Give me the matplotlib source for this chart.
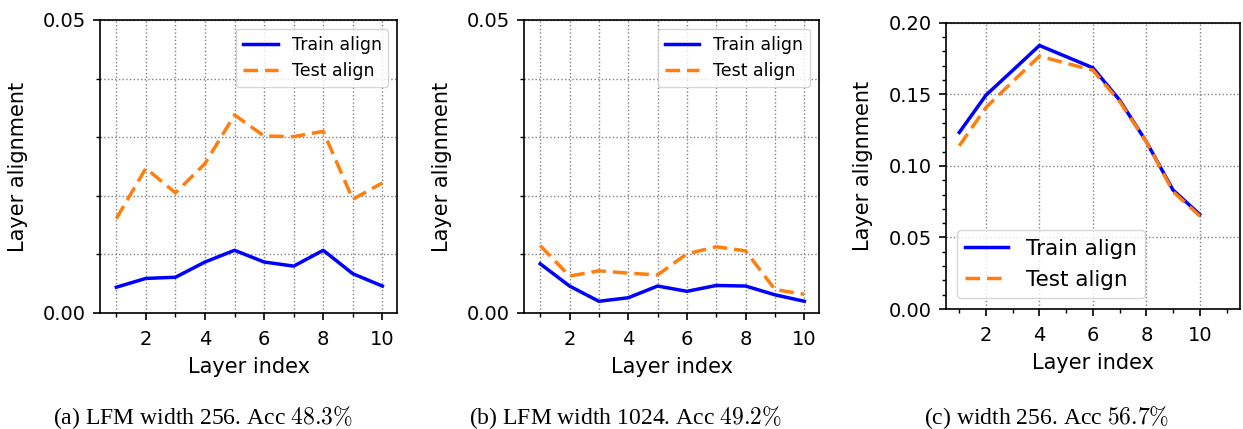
import matplotlib
matplotlib.use("Agg")
import matplotlib.pyplot as plt
from matplotlib.ticker import MultipleLocator

plt.rcParams['mathtext.fontset'] = 'cm'

layers = [1, 2, 3, 4, 5, 6, 7, 8, 9, 10]

# (a) LFM width 256
train_a = [0.0044, 0.0059, 0.0061, 0.0087, 0.0107, 0.0087, 0.0080, 0.0107, 0.0067, 0.0046]
test_a = [0.0161, 0.0247, 0.0205, 0.0255, 0.0338, 0.0302, 0.0301, 0.0310, 0.0194, 0.0222]

# (b) LFM width 1024
train_b = [0.0084, 0.0046, 0.0020, 0.0026, 0.0046, 0.0037, 0.0047, 0.0046, 0.0031, 0.0020]
test_b = [0.0115, 0.0063, 0.0072, 0.0068, 0.0065, 0.0101, 0.0113, 0.0106, 0.0040, 0.0032]

# (c) width 256
train_c = [0.1234, 0.1495, 0.1668, 0.1842, 0.1764, 0.1686, 0.1460, 0.1169, 0.0831, 0.0661]
test_c = [0.1141, 0.1409, 0.1590, 0.1767, 0.1718, 0.1669, 0.1450, 0.1169, 0.0820, 0.0650]

captions = ["(a) LFM width 256. Acc $48.3\\%$",
            "(b) LFM width 1024. Acc $49.2\\%$",
            "(c) width 256. Acc $56.7\\%$"]

blue = '#0000ff'
orange = '#ff7f0e'


def style_axes(ax):
    ax.xaxis.set_major_locator(MultipleLocator(2))
    ax.xaxis.set_minor_locator(MultipleLocator(1))
    ax.tick_params(labelsize=14, width=1.2, length=5)
    ax.tick_params(axis='x', pad=7)
    ax.tick_params(axis='y', pad=5)
    ax.tick_params(which='minor', length=3, width=1)
    ax.set_xlabel('Layer index', fontsize=15, labelpad=6)
    ax.set_ylabel('Layer alignment', fontsize=15, labelpad=11)
    for s in ax.spines.values():
        s.set_linewidth(1.2)


fig = plt.figure(figsize=(12.43, 4.29), dpi=100)

ax1 = fig.add_axes([0.0805, 0.2704, 0.239, 0.683])
ax2 = fig.add_axes([0.4216, 0.2704, 0.2373, 0.683])
ax3 = fig.add_axes([0.761, 0.2797, 0.2365, 0.667])

# first two panels share the same look
for ax, tr, te in [(ax1, train_a, test_a), (ax2, train_b, test_b)]:
    ax.plot(layers, tr, color=blue, lw=2.5, label='Train align')
    ax.plot(layers, te, color=orange, lw=2.5, ls='--', dashes=(4.2, 2), label='Test align')
    ax.set_ylim(0, 0.05)
    ax.set_xlim(0.45, 10.5)
    ax.set_yticks([0, 0.05])
    ax.set_yticklabels(['0.00', '0.05'])
    ax.yaxis.set_minor_locator(MultipleLocator(0.01))
    ax.grid(which='both', ls=':', color='gray', lw=1)
    style_axes(ax)
    ax.legend(loc='upper right', fontsize=12.5)

ax3.plot(layers, train_c, color=blue, lw=2.5, label='Train align')
ax3.plot(layers, test_c, color=orange, lw=2.5, ls='--', dashes=(4.2, 2), label='Test align')
ax3.set_ylim(0, 0.2)
ax3.set_xlim(0.5, 11.5)
ax3.yaxis.set_major_locator(MultipleLocator(0.05))
ax3.yaxis.set_minor_locator(MultipleLocator(0.01))
ax3.grid(which='major', ls=':', color='gray', lw=1)
style_axes(ax3)
ax3.legend(loc='lower left', fontsize=15.5)

fig.text(0.163, 0.026, captions[0], ha='center', va='center', fontsize=17, family='Liberation Serif')
fig.text(0.503, 0.026, captions[1], ha='center', va='center', fontsize=17, family='Liberation Serif')
fig.text(0.842, 0.026, captions[2], ha='center', va='center', fontsize=17, family='Liberation Serif')

fig.savefig('out.png', dpi=100)
